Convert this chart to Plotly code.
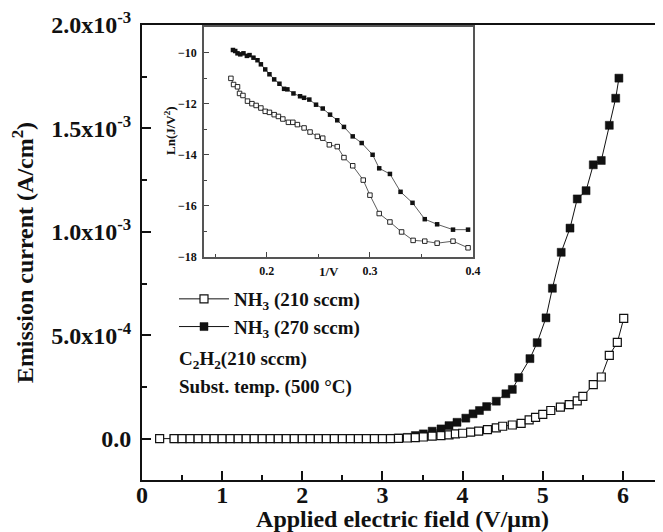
import plotly.graph_objects as go

# ---------------- data (main plot) ----------------
field_open = [0.22, 0.4, 0.5, 0.6, 0.7, 0.8, 0.9, 1.0, 1.1, 1.2, 1.3, 1.4, 1.5, 1.6, 1.7, 1.8,
              1.9, 2.0, 2.1, 2.2, 2.3, 2.4, 2.5, 2.6, 2.7, 2.8, 2.9, 3.0, 3.1, 3.2, 3.31, 3.41,
              3.51, 3.62, 3.73, 3.83, 3.91, 4.0, 4.1, 4.2, 4.31, 4.42, 4.5, 4.62, 4.73, 4.83,
              4.91, 5.0, 5.1, 5.22, 5.33, 5.43, 5.5, 5.63, 5.73, 5.83, 5.93, 6.01]
current_open = [0.0, 0.0, 0.0, 0.0, 0.0, 0.0, 0.0, 0.0, 0.0, 0.0, 0.0, 0.0, 0.0, 0.0, 0.0, 0.0,
                0.0, 0.0, 0.0, 0.0, 0.0, 0.0, 0.0, 0.0, 0.0, 0.0, 0.0, 0.0, 0.5e-6, 1.5e-6, 3e-6, 5e-6,
                8e-6, 12e-6, 15e-6, 18e-6, 23e-6, 26e-6, 31e-6, 36e-6, 44e-6, 52e-6, 60e-6, 66e-6, 74e-6, 91e-6,
                103e-6, 117e-6, 136e-6, 152e-6, 164e-6, 183e-6, 204e-6, 261e-6, 298e-6, 403e-6, 465e-6, 581e-6]

field_filled = [0.4, 0.5, 0.6, 0.7, 0.8, 0.9, 1.0, 1.1, 1.2, 1.3, 1.4, 1.5, 1.6, 1.7, 1.8, 1.9,
                2.0, 2.1, 2.2, 2.3, 2.4, 2.5, 2.6, 2.7, 2.8, 2.9, 3.0, 3.1, 3.2, 3.31, 3.41, 3.51,
                3.62, 3.73, 3.83, 3.93, 4.04, 4.13, 4.21, 4.30, 4.42, 4.54, 4.62, 4.70, 4.84, 4.93,
                5.04, 5.12, 5.23, 5.34, 5.43, 5.54, 5.63, 5.73, 5.83, 5.91, 5.95]
current_filled = [0.0, 0.0, 0.0, 0.0, 0.0, 0.0, 0.0, 0.0, 0.0, 0.0, 0.0, 0.0, 0.0, 0.0, 0.0, 0.0,
                  0.0, 0.0, 0.0, 0.0, 0.0, 0.0, 0.0, 0.0, 0.0, 0.0, 0.0, 1e-6, 3e-6, 6e-6, 15e-6, 23e-6,
                  36e-6, 47e-6, 63e-6, 79e-6, 99e-6, 120e-6, 136e-6, 155e-6, 181e-6, 217e-6, 238e-6, 295e-6, 387e-6, 464e-6,
                  584e-6, 727e-6, 901e-6, 1018e-6, 1159e-6, 1199e-6, 1324e-6, 1345e-6, 1515e-6, 1646e-6, 1743e-6]

# ---------------- data (inset: F-N plot) ----------------
inv_v_open = [0.1651, 0.1677, 0.1715, 0.1735, 0.1768, 0.1812, 0.1855, 0.1896, 0.1942, 0.1984,
              0.2025, 0.2071, 0.2112, 0.2155, 0.2209, 0.2252, 0.2296, 0.2361, 0.2419, 0.2490,
              0.2542, 0.2606, 0.2683, 0.2748, 0.2833, 0.2935, 0.3000, 0.3090, 0.3194, 0.3307,
              0.3419, 0.3532, 0.3652, 0.3806, 0.3952]
ln_open = [-11.01, -11.25, -11.34, -11.60, -11.68, -11.90, -12.00, -12.07, -12.17, -12.30,
           -12.34, -12.43, -12.50, -12.60, -12.73, -12.73, -12.82, -12.95, -13.11, -13.28,
           -13.35, -13.61, -13.68, -14.11, -14.43, -14.99, -15.58, -16.30, -16.63, -17.02,
           -17.35, -17.38, -17.46, -17.38, -17.64]

inv_v_filled = [0.1671, 0.1693, 0.1715, 0.1742, 0.1773, 0.1806, 0.1832, 0.1870, 0.1909, 0.1942,
                0.1984, 0.2025, 0.2071, 0.2122, 0.2167, 0.2199, 0.2258, 0.2322, 0.2361, 0.2412,
                0.2477, 0.2542, 0.2613, 0.2683, 0.2748, 0.2833, 0.2920, 0.3026, 0.3090, 0.3194,
                0.3297, 0.3413, 0.3532, 0.3652, 0.3806, 0.3952]
ln_filled = [-9.90, -9.94, -10.03, -10.07, -10.03, -10.13, -10.10, -10.20, -10.30, -10.46,
             -10.66, -10.85, -11.05, -11.22, -11.42, -11.44, -11.60, -11.71, -11.77, -11.84,
             -12.04, -12.19, -12.43, -12.65, -12.91, -13.28, -13.54, -14.00, -14.53, -14.75,
             -15.45, -15.88, -16.52, -16.72, -16.93, -16.93]

y_tickvals = [0.0, 5e-4, 1e-3, 1.5e-3, 2e-3]
y_ticktext = ["0.0", "5.0x10<sup>-4</sup>", "1.0x10<sup>-3</sup>", "1.5x10<sup>-3</sup>", "2.0x10<sup>-3</sup>"]
x_tickvals = [0, 1, 2, 3, 4, 5, 6]
inset_xticks = [0.2, 0.3, 0.4]
inset_yticks = [-10, -12, -14, -16, -18]

label_open = "NH<sub>3</sub> (210 sccm)"
label_filled = "NH<sub>3</sub> (270 sccm)"

FONT = "Liberation Serif"
INK = "#111111"

fig = go.Figure()

# filled series first (drawn underneath the open squares at low field)
fig.add_trace(go.Scatter(
    x=field_filled, y=current_filled, mode="lines+markers", name=label_filled,
    line=dict(color=INK, width=1),
    marker=dict(symbol="square", size=8, color=INK, line=dict(color=INK, width=0.5)),
    legendrank=2,
))
fig.add_trace(go.Scatter(
    x=field_open, y=current_open, mode="lines+markers", name=label_open,
    line=dict(color=INK, width=1),
    marker=dict(symbol="square", size=8, color="white", line=dict(color=INK, width=1.2)),
    legendrank=1,
))

# inset
fig.add_trace(go.Scatter(
    x=inv_v_open, y=ln_open, mode="lines+markers", xaxis="x2", yaxis="y2", showlegend=False,
    line=dict(color="#333", width=0.8),
    marker=dict(symbol="square", size=4.5, color="white", line=dict(color=INK, width=0.9)),
))
fig.add_trace(go.Scatter(
    x=inv_v_filled, y=ln_filled, mode="lines+markers", xaxis="x2", yaxis="y2", showlegend=False,
    line=dict(color="#333", width=0.8),
    marker=dict(symbol="square", size=4.5, color=INK, line=dict(color=INK, width=0)),
))

# page body has an 8px margin, so the figure is drawn from (8, 8)
OFF = 8
W, H = 663 - OFF, 532 - OFF
PL, PR, PT, PB = 142, 663, 25, 480          # plot area in screen pixels
L, T = PL - OFF, PT - OFF
R = 0
B = H - (PB - OFF)
pw, ph = PR - PL, PB - PT


def px_x(p):
    return (p - PL) / pw


def px_y(p):
    return (PB - p) / ph


fig.update_layout(
    width=W, height=H,
    margin=dict(l=L, r=R, t=T, b=B, autoexpand=False),
    paper_bgcolor="white", plot_bgcolor="white",
    font=dict(family=FONT, color=INK, size=20, weight="bold"),
    showlegend=True,
    legend=dict(
        x=px_x(174), y=px_y(280), xanchor="left", yanchor="top",
        bgcolor="rgba(0,0,0,0)", font=dict(size=19, family=FONT, weight="bold"),
        itemwidth=50, tracegroupgap=0,
    ),
    xaxis=dict(
        range=[0, 6.5], domain=[0, 1], automargin=False,
        tickvals=x_tickvals, ticks="inside", ticklen=9, tickwidth=2, tickcolor=INK,
        minor=dict(tickvals=[0.5, 1.5, 2.5, 3.5, 4.5, 5.5], ticks="inside", ticklen=5, tickwidth=2, tickcolor=INK),
        showline=True, linewidth=2, linecolor=INK, mirror=True,
        showgrid=False, zeroline=False, ticklabelstandoff=-8,
        tickfont=dict(size=24, family=FONT, weight="bold"),
        title=dict(text="Applied electric field (V/μm)", standoff=2,
                   font=dict(size=24, family=FONT, weight="bold")),
    ),
    yaxis=dict(
        range=[-2e-4, 2.0e-3], domain=[0, 1], automargin=False,
        tickvals=y_tickvals, ticktext=y_ticktext, ticks="inside", ticklen=9, tickwidth=2, tickcolor=INK,
        minor=dict(tickvals=[2.5e-4, 7.5e-4, 1.25e-3, 1.75e-3], ticks="inside", ticklen=5, tickwidth=2, tickcolor=INK),
        showline=True, linewidth=2, linecolor=INK, mirror=False,
        showgrid=False, zeroline=False, ticklabelstandoff=4,
        tickfont=dict(size=24, family=FONT, weight="bold"),
        title=dict(text="Emission current (A/cm<sup>2</sup>)", standoff=12,
                   font=dict(size=24, family=FONT, weight="bold")),
    ),
    xaxis2=dict(
        range=[0.139, 0.4], domain=[px_x(204), px_x(473)], anchor="y2", automargin=False,
        tickvals=inset_xticks, ticks="inside", ticklen=5, tickwidth=1, tickcolor="#444",
        minor=dict(tickvals=[0.15, 0.25, 0.35], ticks="inside", ticklen=3, tickwidth=1, tickcolor="#444"),
        showline=True, linewidth=1.5, linecolor="#555", mirror=True,
        showgrid=False, zeroline=False, ticklabelstandoff=2,
        tickfont=dict(size=12, family=FONT, weight="bold"),
    ),
    yaxis2=dict(
        range=[-18, -9], domain=[px_y(257), px_y(27)], anchor="x2", automargin=False,
        tickvals=inset_yticks, ticks="inside", ticklen=5, tickwidth=1, tickcolor="#444",
        minor=dict(tickvals=[-11, -13, -15, -17], ticks="inside", ticklen=3, tickwidth=1, tickcolor="#444"),
        showline=True, linewidth=1.5, linecolor="#555", mirror=True,
        showgrid=False, zeroline=False, ticklabelstandoff=3,
        tickfont=dict(size=12, family=FONT, weight="bold"),
    ),
    annotations=[
        dict(text="1/V", x=0.26, y=px_y(271), xref="x2", yref="paper", showarrow=False,
             font=dict(size=13, family=FONT, weight="bold"), xanchor="center", yanchor="middle"),
        dict(text="Ln(J/V<sup>2</sup>)", x=px_x(170), y=px_y(131), xref="paper", yref="paper",
             showarrow=False, textangle=-90, font=dict(size=13, family=FONT, weight="bold"),
             xanchor="center", yanchor="middle"),
        dict(text="C<sub>2</sub>H<sub>2</sub>(210 sccm)", x=px_x(177), y=px_y(360), xref="paper", yref="paper",
             showarrow=False, font=dict(size=19, family=FONT, weight="bold"), xanchor="left", yanchor="middle"),
        dict(text="Subst. temp. (500 °C)", x=px_x(177), y=px_y(387), xref="paper", yref="paper",
             showarrow=False, font=dict(size=19, family=FONT, weight="bold"), xanchor="left", yanchor="middle"),
    ],
)

fig.write_html("out.html")
